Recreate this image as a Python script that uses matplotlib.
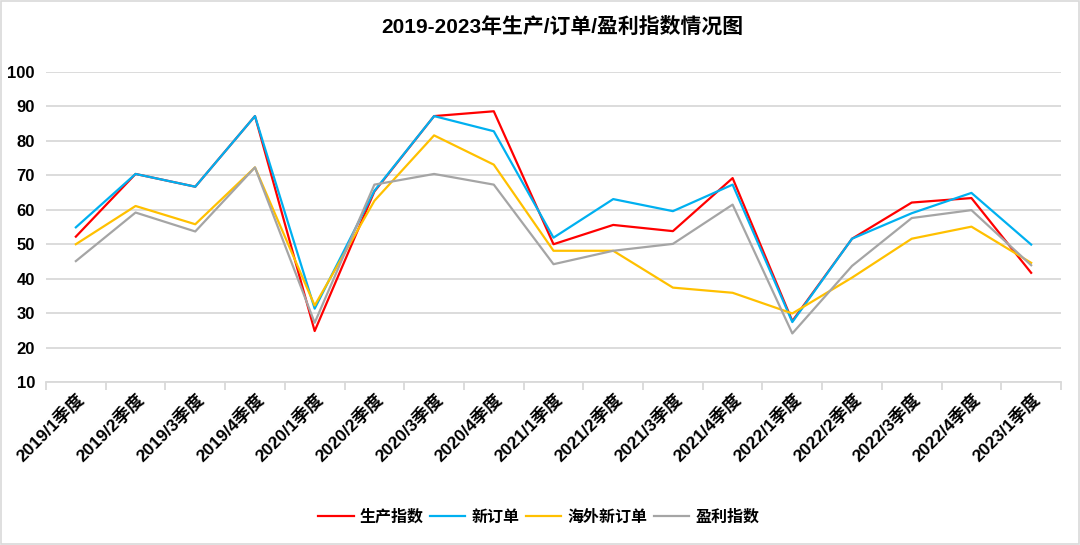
import matplotlib
matplotlib.use("Agg")
import matplotlib.pyplot as plt
from matplotlib.patches import Rectangle

plt.rcParams['font.family'] = ['Liberation Sans', 'Noto Sans CJK SC', 'DejaVu Sans']

categories = ["2019/1季度", "2019/2季度", "2019/3季度", "2019/4季度",
              "2020/1季度", "2020/2季度", "2020/3季度", "2020/4季度",
              "2021/1季度", "2021/2季度", "2021/3季度", "2021/4季度",
              "2022/1季度", "2022/2季度", "2022/3季度", "2022/4季度",
              "2023/1季度"]
production = [52.2, 70.4, 66.7, 87.2, 24.8, 65.3, 87.2, 88.6, 50.0, 55.6, 53.8, 69.2, 27.7, 51.6, 62.1, 63.4, 41.7]
new_orders = [54.9, 70.4, 66.7, 87.2, 31.3, 65.5, 87.2, 82.8, 51.9, 63.1, 59.6, 67.3, 27.4, 51.6, 59.0, 64.9, 49.9]
export_orders = [50.0, 61.1, 55.8, 72.3, 32.2, 62.6, 81.6, 73.1, 48.1, 48.1, 37.4, 35.9, 29.9, 40.3, 51.6, 55.1, 44.6]
profit = [45.1, 59.2, 53.7, 72.3, 27.2, 67.3, 70.4, 67.3, 44.2, 48.1, 50.1, 61.5, 24.1, 43.7, 57.6, 59.9, 43.9]
series_names = ["生产指数", "新订单", "海外新订单", "盈利指数"]
colors = ["#ff0000", "#00b0f0", "#ffc000", "#a5a5a5"]
yticks = [10, 20, 30, 40, 50, 60, 70, 80, 90, 100]

fig = plt.figure(figsize=(10.8, 5.45), dpi=100)
ax = fig.add_axes([46/1080, 1-382/545, (1061-46)/1080, (382-72)/545])

x = list(range(len(categories)))
for data, name, c in zip([production, new_orders, export_orders, profit], series_names, colors):
    ax.plot(x, data, color=c, lw=1.6, label=name, zorder=3)

ax.set_xlim(-0.5, len(categories) - 0.5)
ax.set_ylim(10, 100)
ax.set_yticks(yticks)
ax.yaxis.grid(True, color="#d9d9d9", lw=1.3, zorder=0)
ax.set_axisbelow(True)
for s in ["top", "right", "left"]:
    ax.spines[s].set_visible(False)
ax.spines["bottom"].set_color("#d9d9d9")
ax.spines["bottom"].set_linewidth(1.3)
ax.tick_params(axis="y", length=0, pad=8, labelsize=12, labelcolor="#000000")
for lbl in ax.get_yticklabels():
    lbl.set_fontweight("bold")

# category labels at centers, tick marks between categories
ax.set_xticks([i - 0.5 for i in range(len(categories) + 1)])
ax.set_xticklabels([])
ax.tick_params(axis="x", length=6, width=1.3, color="#d9d9d9")
ax.set_xticks(x, minor=True)
ax.set_xticklabels(categories, minor=True, rotation=45, ha="right",
                   rotation_mode="anchor", fontsize=12.5, fontweight="bold")
ax.tick_params(axis="x", which="minor", length=0, pad=6)

fig.text(562/1080, 1-27/545, "2019-2023年生产/订单/盈利指数情况图", ha="center", va="center",
         fontsize=15, fontweight="bold")

leg = fig.legend(loc="center", bbox_to_anchor=(539/1080, 1-517/545), ncol=4, frameon=False,
                 fontsize=11.5, handlelength=2.2, columnspacing=0.4, handletextpad=0.4)
for t in leg.get_texts():
    t.set_fontweight("bold")

fig.patches.append(Rectangle((0.001, 0.001), 0.998, 0.997, transform=fig.transFigure,
                             fill=False, edgecolor="#d9d9d9", lw=1.2))

fig.savefig("out.png", dpi=100)
